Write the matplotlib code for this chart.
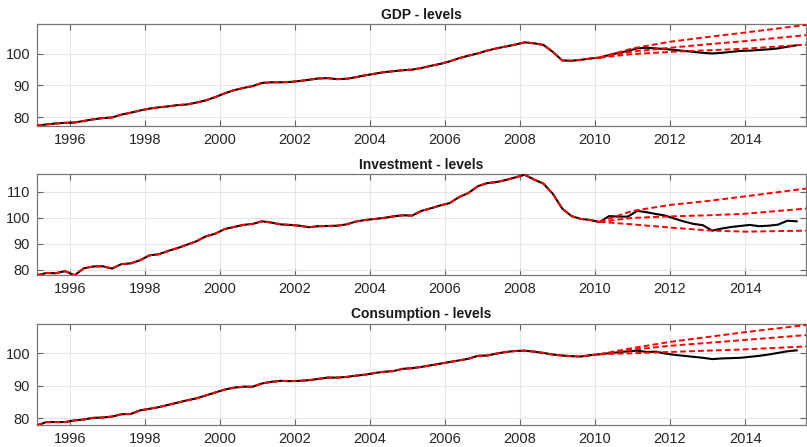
import matplotlib
matplotlib.use('Agg')
import matplotlib.pyplot as plt
import numpy as np

plt.rcParams['font.family'] = ['Liberation Sans', 'DejaVu Sans']

# quarterly data, first obs 1995.125, step 0.25
t0 = 1995.125
hist_end = 2010.125

gdp = [77.3, 77.7, 78.0, 78.2, 78.3, 78.8, 79.3, 79.7, 79.9, 80.8, 81.4, 82.1,
       82.7, 83.1, 83.4, 83.8, 84.0, 84.6, 85.3, 86.3, 87.5, 88.5, 89.2, 89.8,
       90.8, 91.0, 91.0, 91.1, 91.4, 91.8, 92.2, 92.3, 92.0, 92.1, 92.6, 93.2,
       93.7, 94.2, 94.5, 94.8, 95.0, 95.5, 96.2, 96.8, 97.6, 98.6, 99.4, 100.1,
       101.0, 101.7, 102.3, 102.9, 103.6, 103.3, 102.8, 100.6, 97.9, 97.8, 98.1, 98.5,
       98.8, 99.6, 100.3, 100.9, 101.7, 101.9, 101.7, 101.5, 101.2, 100.9, 100.6, 100.3,
       100.1, 100.3, 100.6, 100.9, 101.0, 101.2, 101.4, 101.7, 102.2, 102.7]

inv = [77.8, 78.7, 78.6, 79.4, 77.8, 80.5, 81.2, 81.3, 80.4, 82.1, 82.4, 83.6,
       85.5, 85.9, 87.2, 88.3, 89.6, 90.9, 92.8, 93.8, 95.6, 96.4, 97.2, 97.6,
       98.6, 98.1, 97.4, 97.2, 96.9, 96.3, 96.7, 96.8, 96.9, 97.4, 98.5, 99.1,
       99.5, 99.9, 100.5, 100.9, 100.8, 102.6, 103.6, 104.7, 105.6, 107.9, 109.5, 112.1,
       113.3, 113.7, 114.5, 115.5, 116.5, 114.7, 113.1, 109.2, 103.5, 100.6, 99.5, 99.1,
       98.3, 100.6, 100.4, 100.4, 102.6, 102.1, 101.4, 100.8, 99.6, 98.5, 97.6, 97.1,
       95.0, 95.8, 96.4, 96.8, 97.2, 96.7, 96.9, 97.3, 98.8, 98.6]

cons = [77.8, 78.8, 78.8, 78.8, 79.3, 79.6, 80.1, 80.2, 80.5, 81.2, 81.3, 82.4,
        82.9, 83.4, 84.1, 84.8, 85.5, 86.1, 87.0, 87.9, 88.8, 89.4, 89.7, 89.7,
        90.7, 91.2, 91.5, 91.4, 91.5, 91.7, 92.1, 92.5, 92.5, 92.7, 93.1, 93.4,
        93.9, 94.3, 94.5, 95.2, 95.4, 95.8, 96.3, 96.8, 97.3, 97.8, 98.3, 99.2,
        99.3, 99.9, 100.4, 100.7, 100.8, 100.5, 100.1, 99.6, 99.3, 99.1, 99.0, 99.4,
        99.7, 100.0, 100.3, 100.6, 100.8, 100.4, 100.5, 99.9, 99.5, 99.2, 98.9, 98.6,
        98.2, 98.4, 98.5, 98.6, 98.9, 99.2, 99.6, 100.1, 100.6, 100.9]

# forecast paths (upper, middle, lower)
fc_t = [2010.125, 2011.0, 2012.0, 2013.0, 2014.0, 2015.625]
gdp_fc = [[98.8, 101.7, 103.8, 105.3, 106.7, 109.1],
          [98.8, 100.7, 101.9, 103.0, 104.0, 105.9],
          [98.8, 99.9, 100.6, 101.1, 101.6, 102.9]]
inv_fc = [[98.4, 102.6, 104.9, 106.4, 108.2, 111.2],
          [98.4, 99.9, 100.5, 100.9, 101.5, 103.5],
          [98.4, 97.4, 96.2, 95.1, 94.6, 95.0]]
cons_fc = [[99.7, 101.6, 103.5, 105.0, 106.5, 108.7],
           [99.7, 101.1, 102.3, 103.2, 104.1, 105.6],
           [99.7, 100.0, 100.4, 100.8, 101.2, 102.1]]

titles = ['GDP - levels', 'Investment - levels', 'Consumption - levels']
ylims = [(77.2, 109.3), (77.8, 116.7), (77.8, 109.1)]
yticks = [[80, 90, 100], [80, 90, 100, 110], [80, 90, 100]]
xticks = [1996, 1998, 2000, 2002, 2004, 2006, 2008, 2010, 2012, 2014]

fig = plt.figure(figsize=(8.07, 4.47), dpi=100)
boxes = [[0.0458, 0.7181, 0.953, 0.2275],
         [0.0458, 0.3841, 0.953, 0.2260],
         [0.0458, 0.0485, 0.953, 0.2273]]

dash = (0, (3, 1.6))
for i, (ser, fc) in enumerate([(gdp, gdp_fc), (inv, inv_fc), (cons, cons_fc)]):
    ax = fig.add_axes(boxes[i])
    ser = np.array(ser)
    t = t0 + 0.25 * np.arange(len(ser))
    nh = int(round((hist_end - t0) / 0.25)) + 1
    ax.plot(t, ser, color='black', lw=1.5, zorder=3)
    ax.plot(t[:nh], ser[:nh], color='red', lw=1.4, ls=dash, zorder=4)
    for path in fc:
        ax.plot(fc_t, path, color='red', lw=1.4, ls=dash, zorder=4)
    ax.set_xlim(1995.125, 2015.625)
    ax.set_ylim(*ylims[i])
    ax.set_xticks(xticks)
    ax.set_yticks(yticks[i])
    ax.grid(True, color='#e6e6e6', lw=0.8)
    ax.set_axisbelow(True)
    ax.tick_params(direction='in', length=4, width=0.8, top=True, right=True,
                   colors='#666666', labelcolor='#262626', labelsize=10.5, pad=5)
    for sp in ax.spines.values():
        sp.set_color('#777777')
        sp.set_linewidth(0.9)
    ax.set_title(titles[i], fontsize=10, fontweight='bold', color='#1a1a1a', pad=4)

fig.savefig('out.png', dpi=100)
